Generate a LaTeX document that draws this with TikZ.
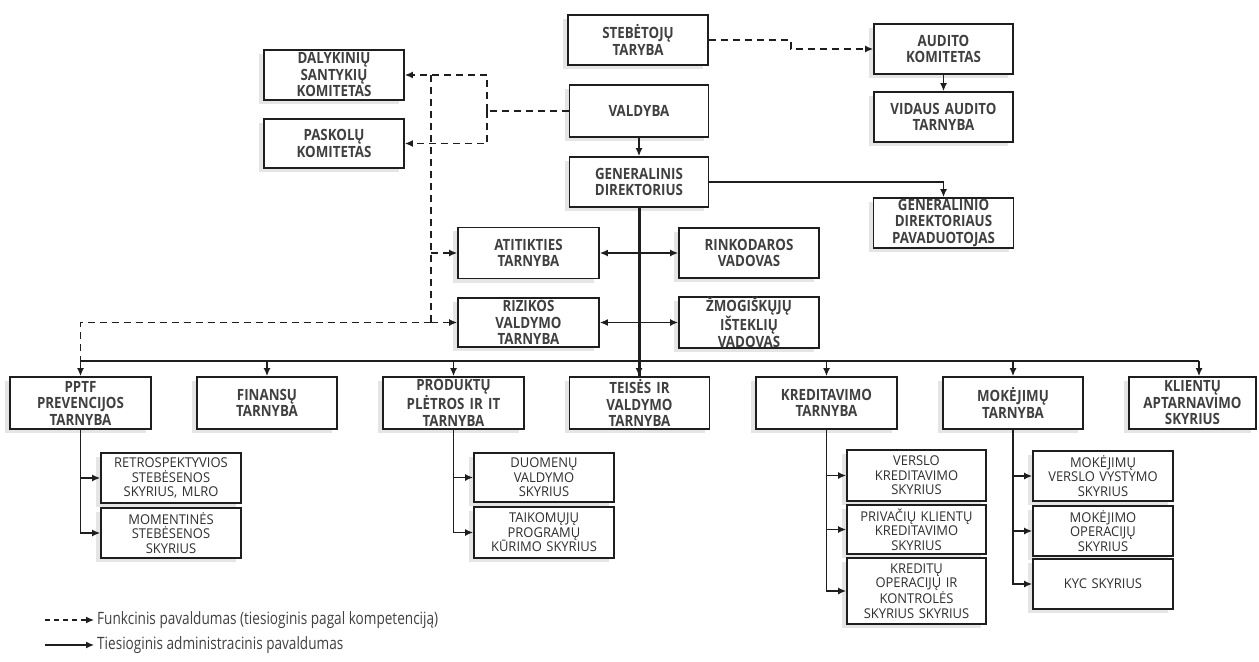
\documentclass[tikz,border=0pt]{standalone}
\usepackage{fontspec}
\setmainfont{Open Sans}
\newfontfamily\medfont{Open Sans}[FakeStretch=0.86]
\newfontfamily\subfont{Open Sans}[FakeStretch=0.96]
\newfontfamily\legfont{Open Sans}[FakeStretch=0.8]
\usetikzlibrary{arrows.meta,shadows}
\definecolor{ink}{HTML}{1E1E1E}
\tikzset{
  base/.style={draw=ink, line width=1.8bp, fill=white, align=center, inner sep=0pt,
    drop shadow={shadow xshift=-5bp, shadow yshift=-4bp, opacity=0.10, fill=black}},
  mainbox/.style={base, font=\medfont\bfseries\fontsize{15.5bp}{16.5bp}\selectfont, text=ink!85},
  subbox/.style={base, font=\subfont\fontsize{13.5bp}{14.5bp}\selectfont, text=ink!92},
  conn/.style={draw=ink, line width=1.3bp},
  arr/.style={conn, -{Latex[length=8bp,width=7bp]}},
  darr/.style={conn, {Latex[length=8bp,width=7bp]}-{Latex[length=8bp,width=7bp]}},
  dsh/.style={conn, dash pattern=on 7bp off 5bp},
  dsharr/.style={dsh, -{Latex[length=8bp,width=7bp]}},
  thickln/.style={draw=ink, line width=3bp},
}
\newcommand{\bx}[8]{\node[#1, minimum width=#5bp, minimum height=#6bp, text width=#5bp-6bp] (#2) at (#3,#4) {#8};}
\begin{document}
\begin{tikzpicture}[x=1bp,y=-1bp]
\useasboundingbox (0,0) rectangle (1259,662);
% top
\bx{mainbox}{steb}{638}{40}{140}{50}{}{STEBĖTOJŲ\\TARYBA}
\bx{mainbox}{audit}{943.5}{49}{139}{50}{}{AUDITO\\KOMITETAS}
\bx{mainbox}{vidaus}{943.5}{117}{139}{50}{}{VIDAUS AUDITO\\TARNYBA}
\bx{mainbox}{valdyba}{639}{111}{139}{52}{}{VALDYBA}
\bx{mainbox}{gen}{639}{182}{139}{50}{}{GENERALINIS\\DIREKTORIUS}
\bx{mainbox}{pavad}{943.5}{223}{140}{50}{}{GENERALINIO\\DIREKTORIAUS\\PAVADUOTOJAS}
\bx{mainbox}{dalyk}{334}{75}{140}{50}{}{DALYKINIŲ\\SANTYKIŲ\\KOMITETAS}
\bx{mainbox}{paskol}{334}{143.5}{140}{49}{}{PASKOLŲ\\KOMITETAS}
\bx{mainbox}{atit}{528.5}{253}{141}{51}{}{ATITIKTIES\\TARNYBA}
\bx{mainbox}{rinko}{749}{253}{140}{50}{}{RINKODAROS\\VADOVAS}
\bx{mainbox}{riz}{528.5}{322.5}{141}{49}{}{RIZIKOS\\VALDYMO\\TARNYBA}
\bx{mainbox}{zmog}{749}{322.5}{140}{49}{}{ŽMOGIŠKŲJŲ\\IŠTEKLIŲ\\VADOVAS}
% row
\bx{mainbox}{pptf}{80.5}{403}{141}{52}{}{PPTF\\PREVENCIJOS\\TARNYBA}
\bx{mainbox}{fin}{267}{403}{140}{52}{}{FINANSŲ\\TARNYBA}
\bx{mainbox}{prod}{453.5}{403}{141}{52}{}{PRODUKTŲ\\PLĖTROS IR IT\\TARNYBA}
\bx{mainbox}{teis}{639.5}{403}{140}{52}{}{TEISĖS IR\\VALDYMO\\TARNYBA}
\bx{mainbox}{kred}{826.5}{403}{141}{52}{}{KREDITAVIMO\\TARNYBA}
\bx{mainbox}{mok}{1013}{403}{140}{52}{}{MOKĖJIMŲ\\TARNYBA}
\bx{mainbox}{klient}{1192.5}{403}{127}{52}{}{KLIENTŲ\\APTARNAVIMO\\SKYRIUS}
% sub
\bx{subbox}{retro}{171}{478}{140}{50}{}{RETROSPEKTYVIOS\\STEBĖSENOS\\SKYRIUS, MLRO}
\bx{subbox}{moment}{171}{533}{140}{50}{}{MOMENTINĖS\\STEBĖSENOS\\SKYRIUS}
\bx{subbox}{duom}{544}{477.5}{140}{49}{}{DUOMENŲ\\VALDYMO\\SKYRIUS}
\bx{subbox}{taik}{544}{532.5}{140}{51}{}{TAIKOMŲJŲ\\PROGRAMŲ\\KŪRIMO SKYRIUS}
\bx{subbox}{verslo}{916.5}{475.5}{139}{51}{}{VERSLO\\KREDITAVIMO\\SKYRIUS}
\bx{subbox}{privat}{916.5}{529.5}{139}{49}{}{PRIVAČIŲ KLIENTŲ\\KREDITAVIMO\\SKYRIUS}
\bx{subbox}{kreditu}{916.5}{591}{139}{66}{}{KREDITŲ\\OPERACIJŲ IR\\KONTROLĖS\\SKYRIUS SKYRIUS}
\bx{subbox}{mokv}{1103}{476}{140}{50}{}{MOKĖJIMŲ\\VERSLO VYSTYMO\\SKYRIUS}
\bx{subbox}{mokop}{1103}{531}{140}{50}{}{MOKĖJIMO\\OPERACIJŲ\\SKYRIUS}
\bx{subbox}{kyc}{1103}{584}{140}{50}{}{KYC SKYRIUS}
% coordinates
\coordinate (bus) at (0,361);
\coordinate (busR) at (1199,361);
\coordinate (vj) at (487,111);
\coordinate (dl) at (431,0);
% solid connectors
\draw[arr] (valdyba.south) -- (gen.north);
\draw[arr] (audit.south) -- (vidaus.north);
\draw[arr] (gen.east) -| (pavad.north);
\draw[thickln] (gen.south) -- (gen.south |- teis.north);
\draw[arr] (gen.south |- bus) -- (gen.south |- teis.north);
\draw[conn] (pptf.north |- bus) -- (busR);
\draw[arr] (pptf.north |- bus) -- (pptf.north);
\draw[arr] (fin.north |- bus) -- (fin.north);
\draw[arr] (prod.north |- bus) -- (prod.north);
\draw[arr] (kred.north |- bus) -- (kred.north);
\draw[arr] (mok.north |- bus) -- (mok.north);
\draw[arr] (busR) -- (busR |- klient.north);
\draw[darr] (atit.east) -- (atit.east -| rinko.west);
\draw[darr] (riz.east) -- (riz.east -| zmog.west);
\draw[arr] (pptf.south) |- (retro.west);
\draw[arr] (pptf.south) |- (moment.west);
\draw[arr] (prod.south) |- (duom.west);
\draw[arr] (prod.south) |- (taik.west);
\draw[arr] (kred.south) |- (verslo.west);
\draw[arr] (kred.south) |- (privat.west);
\draw[arr] (kred.south) |- (kreditu.west);
\draw[arr] (mok.south) |- (mokv.west);
\draw[arr] (mok.south) |- (mokop.west);
\draw[arr] (mok.south) |- (kyc.west);
% dashed connectors
\draw[dsharr] (steb.east) -- ++(82,0) |- (audit.west);
\draw[dsh] (valdyba.west) -- (vj);
\draw[dsharr] (vj) |- (dalyk.east);
\draw[dsharr] (vj) |- (paskol.east);
\draw[dsh] (dl |- dalyk.east) -- (dl |- riz.west);
\draw[dsharr] (dl |- atit.west) -- (atit.west);
\draw[dsharr] (dl |- riz.west) -- (riz.west);
\draw[dsh] (dl |- riz.west) -| (pptf.north |- bus);
% legend
\coordinate (l1a) at (45,620);
\coordinate (l1b) at (94,620);
\coordinate (l2a) at (45,645);
\coordinate (l2b) at (94,645);
\draw[dsharr, dash pattern=on 5bp off 4bp] (l1a) -- (l1b);
\draw[arr] (l2a) -- (l2b);
\node[anchor=west, inner sep=0pt, font=\legfont\fontsize{17bp}{19bp}\selectfont, text=ink!85] (lt1) at (97,620) {Funkcinis pavaldumas (tiesioginis pagal kompetenciją)};
\node[anchor=west, inner sep=0pt, font=\legfont\fontsize{17bp}{19bp}\selectfont, text=ink!85] (lt2) at (97,645) {Tiesioginis administracinis pavaldumas};
\end{tikzpicture}
\end{document}
